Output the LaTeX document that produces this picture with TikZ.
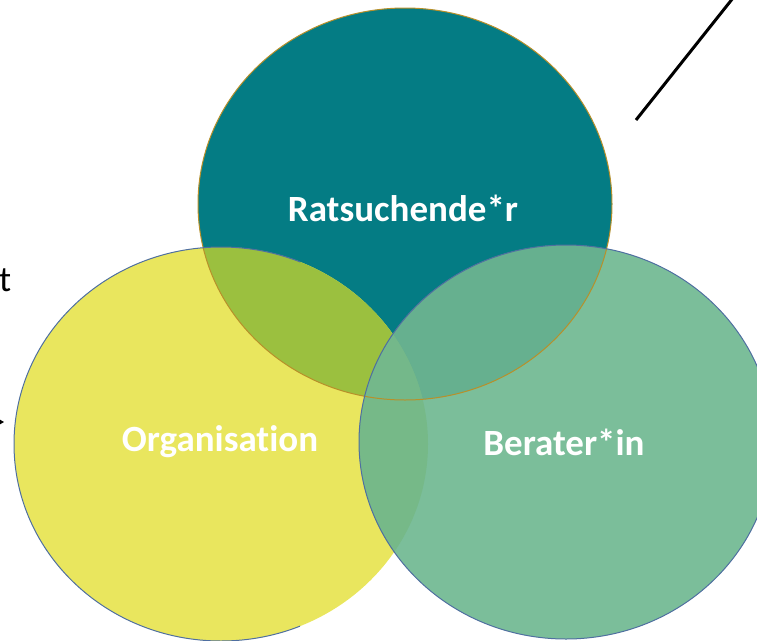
\documentclass[tikz,border=0pt]{standalone}
\usepackage{fontspec}
\setmainfont{Carlito}[RawFeature=-liga]
\usetikzlibrary{arrows.meta}
\definecolor{teal1}{HTML}{047C84}
\definecolor{yell}{HTML}{E9E65E}
\definecolor{grn}{HTML}{7BBE9A}
\definecolor{ty}{HTML}{9BC03F}
\definecolor{tg}{HTML}{66B08F}
\definecolor{yg}{HTML}{76B988}
\definecolor{tyg}{HTML}{74B88A}
\definecolor{goldline}{HTML}{B8902A}
\definecolor{blueline}{HTML}{4F6FA0}
\tikzset{
  lbl/.style={text=white, font=\bfseries\fontsize{37}{40}\selectfont, inner sep=0pt},
  outline/.style={line width=1pt},
}
\begin{document}
\begin{tikzpicture}[x=1pt,y=-1pt]
\useasboundingbox (0,0) rectangle (757,640);
\clip (0,0) rectangle (757,640);
\def\top{(405,204) ellipse [x radius=207, y radius=196]}
\def\lft{(221,444) ellipse [x radius=207, y radius=197]}
\def\rgt{(566,442) ellipse [x radius=207, y radius=197]}
% base fills
\fill[teal1] \top;
\fill[yell] \lft;
\begin{scope}
  \clip \lft;
  \fill[ty] \top;
\end{scope}
\fill[grn] \rgt;
\begin{scope}
  \clip \rgt;
  \fill[tg] \top;
  \fill[yg] \lft;
  \clip \lft;
  \fill[tyg] \top;
\end{scope}
% outlines
\draw[goldline, outline] \top;
\begin{scope}
  \clip (0,0) rectangle (300,640);
  \draw[blueline, outline] \lft;
\end{scope}
\draw[blueline, outline] \rgt;
% labels
\node[lbl] (rat) at (403,208) {Ratsuchende*r};
\node[lbl] (org) at (220,442) {Organisation};
\node[lbl] (ber) at (564,442) {Berater*in};
% fragments at edges
\node[anchor=base west, inner sep=0pt, font=\fontsize{36}{38}\selectfont] (tfrag) at (-1,291) {t};
\coordinate (arrS) at (-12,422);
\coordinate (arrE) at (4,422);
\draw[-{Stealth[length=7pt,width=8pt]}, line width=1pt] (arrS) -- (arrE);
\coordinate (lnA) at (636,120);
\coordinate (lnB) at (733,-2);
\draw[line width=3pt] (lnA) -- (lnB);
\end{tikzpicture}
\end{document}
